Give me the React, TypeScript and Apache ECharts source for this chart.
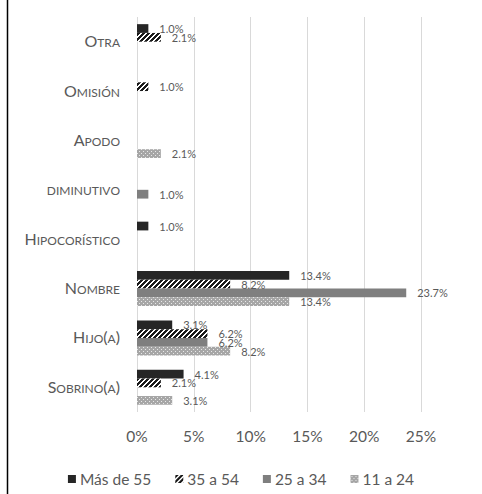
import React, { useEffect, useRef } from "react";
import * as echarts from "echarts";

// categories top to bottom (y axis is inverted)
const categories = ["Otra", "Omisión", "Apodo", "diminutivo", "Hipocorístico", "Nombre", "Hijo(a)", "Sobrino(a)"];
const seriesNames = ["Más de 55", "35 a 54", "25 a 34", "11 a 24"];
const masDe55 = [1.0, null, null, null, 1.0, 13.4, 3.1, 4.1];
const de35a54 = [2.1, 1.0, null, null, null, 8.2, 6.2, 2.1];
const de25a34 = [null, null, null, 1.0, null, 23.7, 6.2, null];
const de11a24 = [null, null, 2.1, null, null, 13.4, 8.2, 3.1];
const xTicks = [0, 5, 10, 15, 20, 25];

// small caps look: first capital bigger, rest uppercase smaller
const smallCaps = (name: string) => {
    let out = "";
    for (const ch of name) {
        const big = ch === "(" || ch === ")" || (ch !== ch.toLowerCase());
        out += big ? `{b|${ch}}` : `{s|${ch.toUpperCase()}}`;
    }
    return out;
};

const makeHatch = () => {
    const c = document.createElement("canvas");
    c.width = 5; c.height = 5;
    const ctx = c.getContext("2d")!;
    ctx.fillStyle = "#ffffff";
    ctx.fillRect(0, 0, 5, 5);
    ctx.fillStyle = "#1a1a1a";
    for (let x = 0; x < 5; x++)
        for (let y = 0; y < 5; y++)
            if ((x + y) % 5 < 3) ctx.fillRect(x, y, 1, 1);
    return c;
};

const makeDots = () => {
    const c = document.createElement("canvas");
    c.width = 4; c.height = 4;
    const ctx = c.getContext("2d")!;
    ctx.fillStyle = "#a6a6a6";
    ctx.fillRect(0, 0, 4, 4);
    ctx.fillStyle = "#e8e8e8";
    ctx.fillRect(1, 1, 1, 1);
    ctx.fillRect(3, 3, 1, 1);
    return c;
};

const App: React.FC = () => {
    const ref = useRef<HTMLDivElement | null>(null);

    useEffect(() => {
        if (!ref.current) return;
        const chart = echarts.init(ref.current, null, { renderer: "svg" });

        const colors: any[] = [
            "#262626",
            { image: makeHatch(), repeat: "repeat" },
            "#7f7f7f",
            { image: makeDots(), repeat: "repeat" }
        ];
        const values = [masDe55, de35a54, de25a34, de11a24];

        const option: echarts.EChartsOption = {
            animation: false,
            textStyle: { fontFamily: "Lato" },
            grid: { left: 137, right: 61, top: 17, bottom: 82 },
            legend: {
                data: seriesNames,
                top: 466,
                left: "center",
                icon: "rect",
                itemWidth: 8,
                itemHeight: 8,
                itemGap: 24,
                textStyle: { color: "#595959", fontSize: 15.5, fontFamily: "Lato", padding: [0, 0, 0, -1] }
            },
            xAxis: {
                type: "value",
                min: xTicks[0],
                max: xTicks[xTicks.length - 1],
                interval: 5,
                axisLine: { show: false },
                axisTick: { show: false },
                splitLine: { lineStyle: { color: "#d9d9d9", width: 1 } },
                axisLabel: { color: "#595959", fontSize: 15.5, margin: 16, formatter: "{value}%" }
            },
            yAxis: {
                type: "category",
                inverse: true,
                data: categories,
                axisLine: { show: false },
                axisTick: { show: false },
                axisLabel: {
                    margin: 17,
                    padding: [0, 0, 4, 0],
                    formatter: (v: string) => smallCaps(v),
                    rich: {
                        b: { fontSize: 16, lineHeight: 18, verticalAlign: "bottom", color: "#595959", fontFamily: "Lato" },
                        s: { fontSize: 12, lineHeight: 18, verticalAlign: "bottom", color: "#595959", fontFamily: "Lato" }
                    }
                }
            },
            graphic: [
                {
                    type: "line",
                    shape: { x1: 7.5, y1: 0, x2: 7.5, y2: 494 },
                    style: { stroke: "#000000", lineWidth: 1.5 }
                }
            ],
            series: seriesNames.map((name, i) => ({
                name,
                type: "bar",
                barGap: "0%",
                barCategoryGap: "29%",
                data: values[i].map((v) => (v == null ? "-" : v)),
                itemStyle: { color: colors[i] },
                label: {
                    show: true,
                    position: "right",
                    distance: 11,
                    fontSize: 11,
                    lineHeight: 8,
                    color: "#595959",
                    fontFamily: "Lato",
                    formatter: (p: any) => Number(p.value).toFixed(1) + "%"
                }
            }))
        };

        chart.setOption(option);
        return () => chart.dispose();
    }, []);

    return <div ref={ref} style={{ position: "fixed", left: 0, top: 0, width: 482, height: 494, background: "#fff" }} />;
};

export default App;
